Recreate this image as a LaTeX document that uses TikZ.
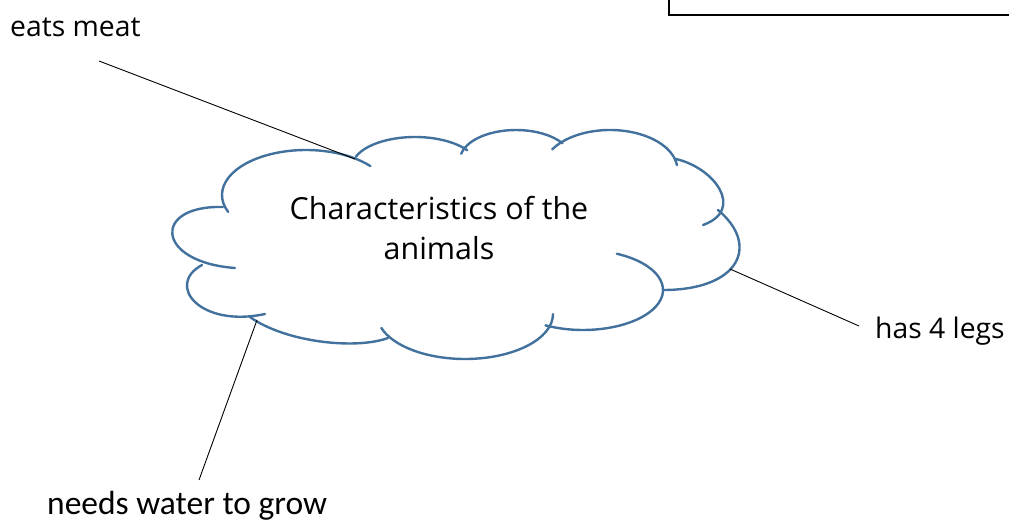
\documentclass[tikz,border=0pt]{standalone}
\usepackage{fontspec}
\setmainfont{Open Sans}
\newfontfamily\calibrifont{Carlito}
\definecolor{cloudblue}{RGB}{65,113,156}
\newcommand{\elobe}[6]{\draw[lobe] (#1,#2) ++(#5:#3 and #4) arc[start angle=#5,end angle=#6,x radius=#3,y radius=#4];}
\begin{document}
\begin{tikzpicture}[x=1pt,y=-1pt,
  lobe/.style={draw=cloudblue,line width=2.4pt,line cap=round},
  leader/.style={draw=black,line width=0.9pt},
  hand/.style={font=\fontsize{28.3}{34}\selectfont,inner sep=0pt,anchor=base west},
  frame/.style={draw=black,line width=2pt}]
\useasboundingbox (0,0) rectangle (1009,522);
% partial frame at top right
\draw[frame] (669,-3) -- (669,15) -- (1012,15);
% cloud lobes
\elobe{306}{195}{84}{45}{158}{320}
\elobe{415}{167}{63}{30}{200}{326}
\elobe{516}{160}{56}{30}{192}{326}
\elobe{610}{170}{67.5}{40}{211}{353}
\draw[lobe] (676,159) .. controls (715,168) and (745,210) .. (703,225);
\draw[lobe] (718,210) .. controls (760,245) and (740,290) .. (663,290);
\elobe{583}{290}{80}{40}{-65}{118}
\elobe{465}{314}{88}{45}{0}{162}
\draw[lobe] (388,338) .. controls (355,350) and (285,342) .. (250,317);
\draw[lobe] (265,314) .. controls (200,328) and (165,285) .. (202,265);
\draw[lobe] (235,268) .. controls (155,262) and (152,205) .. (223,207);
% texts
\node[align=center,inner sep=0pt,font=\fontsize{30.4}{40}\selectfont] (title) at (439,228) {Characteristics of the\\animals};
\node[hand] (eats) at (10,36) {eats meat};
\node[hand] (legs) at (875,338) {has 4 legs};
\node[inner sep=0pt,anchor=base west,font=\calibrifont\fontsize{33.5}{38}\selectfont] (water) at (47,514) {needs water to grow};
% connector ends
\coordinate (eatsA) at (99,61);
\coordinate (eatsB) at (355,159);
\coordinate (legsA) at (859,326);
\coordinate (legsB) at (730,269);
\coordinate (waterA) at (199,480);
\coordinate (waterB) at (257,320);
\draw[leader] (eatsA) -- (eatsB);
\draw[leader] (legsA) -- (legsB);
\draw[leader] (waterA) -- (waterB);
\end{tikzpicture}
\end{document}
